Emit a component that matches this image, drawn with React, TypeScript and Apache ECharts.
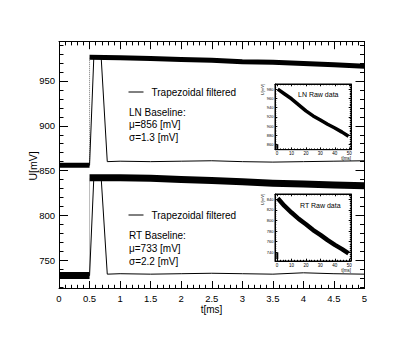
import React, { useEffect, useRef } from "react";
import * as echarts from "echarts";

// ---- Main traces (t in ms, U in mV) ----
const lnBaseT = [0, 0.5];
const lnBaseU = [856, 856];
const lnRawT = [0.5, 1, 1.5, 2, 2.5, 3, 3.5, 4, 4.5, 5];
const lnRawU = [976.5, 976, 975, 974, 973, 971.5, 971, 969.5, 968, 966.5];
const rtBaseT = [0, 0.5];
const rtBaseU = [733, 733];
const rtRawT = [0.5, 1, 1.5, 2, 2.5, 3, 3.5, 4, 4.5, 5];
const rtRawU = [842, 842, 841.5, 840, 839, 837.5, 836, 835, 834, 833];
const trapT = [0, 0.5, 0.57, 0.69, 0.79, 1, 1.5, 2, 2.5, 3, 3.5, 4, 4.5, 5];
const lnTrapU = [856, 856, 976.5, 976.5, 860, 860.5, 860, 860.5, 861, 860, 859.5, 860, 860.5, 861];
const rtTrapU = [733, 733, 842, 842, 734.5, 735, 734.5, 735, 735.5, 735, 734.5, 736, 735, 734.5];

// ---- Inset raw data (t in ms, U in mV) ----
const insetT = [0.5, 5, 10, 15, 20, 25, 30, 35, 40, 45, 49.5];
const lnInsetU = [980, 970, 959, 946, 933, 922, 913, 904, 896, 887, 878];
const rtInsetU = [842, 828, 815, 803, 793, 782, 773, 763, 754, 746, 738];
const insetBaseT = [0.2, 0.2];
const lnInsetBaseU = [851, 861];
const rtInsetBaseU = [727, 740];

// ---- Texts ----
const legendText = "Trapezoidal filtered";
const lnLines = ["LN Baseline:", "\u03bc=856 [mV]", "\u03c3=1.3 [mV]"];
const rtLines = ["RT Baseline:", "\u03bc=733 [mV]", "\u03c3=2.2 [mV]"];

const FONT = "'Liberation Sans', Arial, Helvetica, sans-serif";
const TICK = "#000";

const zip = (t: number[], u: number[]) => t.map((v, i) => [v, u[i]]);

function axisCommon(grid: number, major: number, minor: number, fs: number, margin: number, showLabel: boolean) {
  return {
    gridIndex: grid,
    type: "value",
    axisLine: { show: true, onZero: false, lineStyle: { color: "#000", width: 1 } },
    axisTick: { show: true, inside: true, length: major, lineStyle: { color: TICK, width: 1 } },
    minorTick: { show: true, splitNumber: 5, length: minor, lineStyle: { color: TICK, width: 1 } },
    splitLine: { show: false },
    minorSplitLine: { show: false },
    axisLabel: {
      show: showLabel,
      color: "#000",
      fontSize: fs,
      fontFamily: FONT,
      margin,
      showMinLabel: false,
      showMaxLabel: false,
    },
  };
}

export default function App() {
  const ref = useRef<HTMLDivElement>(null);
  useEffect(() => {
    if (!ref.current) return;
    const chart = echarts.init(ref.current, undefined, { renderer: "svg" });

    const mainX = (pos: string, show: boolean) => {
      const a: any = axisCommon(0, 7.5, 3.7, 9.5, 5, show);
      a.position = pos;
      a.min = 0;
      a.max = 5;
      a.interval = 0.5;
      a.axisLabel.showMinLabel = true;
      a.axisLabel.showMaxLabel = true;
      return a;
    };
    const mainY = (pos: string, show: boolean) => {
      const a: any = axisCommon(0, 9, 4.5, 9.5, 4, show);
      a.position = pos;
      a.min = 718.5;
      a.max = 993.8;
      return a;
    };
    const insX = (grid: number, pos: string, show: boolean) => {
      const a: any = axisCommon(grid, 2.3, 1.2, 4.5, 1.5, show);
      a.position = pos;
      a.min = -1.4;
      a.max = 51.2;
      return a;
    };
    const insY = (grid: number, pos: string, show: boolean, min: number, max: number, split: number) => {
      const a: any = axisCommon(grid, 2.3, 1.2, 4, 1.5, show);
      a.position = pos;
      a.min = min;
      a.max = max;
      a.splitNumber = split;
      return a;
    };

    const line = (name: string, data: number[][], width: number, xi: number, yi: number, extra: any = {}) => ({
      name,
      type: "line",
      xAxisIndex: xi,
      yAxisIndex: yi,
      data,
      showSymbol: false,
      symbol: "none",
      silent: true,
      lineStyle: { color: "#000", width, cap: "butt", join: "round", ...extra },
      z: width > 2 ? 2 : 3,
    });

    const textEl = (text: string, x: number, y: number, fs: number, extra: any = {}) => ({
      type: "text",
      x,
      y,
      silent: true,
      style: { text, fill: "#000", font: `${fs}px ${FONT}`, align: "left", verticalAlign: "middle", ...extra },
      z: 100,
    });

    const legendEls = (y: number) => [
      { type: "line", shape: { x1: 128.5, y1: y, x2: 143.5, y2: y }, style: { stroke: "#000", lineWidth: 1 }, z: 100 },
      textEl(legendText, 151.5, y, 10),
    ];

    chart.setOption({
      animation: false,
      backgroundColor: "#fff",
      textStyle: { fontFamily: FONT },
      grid: [
        { left: 59, top: 41.7, width: 305.5, height: 246.8, show: false, containLabel: false },
        { left: 275, top: 84, width: 76, height: 65.7, show: true, backgroundColor: "#fff", borderColor: "#000", borderWidth: 1, containLabel: false },
        { left: 275, top: 194, width: 76, height: 67, show: true, backgroundColor: "#fff", borderColor: "#000", borderWidth: 1, containLabel: false },
      ],
      xAxis: [
        mainX("bottom", true),
        mainX("top", false),
        insX(1, "bottom", true),
        insX(1, "top", false),
        insX(2, "bottom", true),
        insX(2, "top", false),
      ],
      yAxis: [
        mainY("left", true),
        mainY("right", false),
        insY(1, "left", true, 849, 991, 7),
        insY(1, "right", false, 849, 991, 7),
        insY(2, "left", true, 723.6, 850, 6),
        insY(2, "right", false, 723.6, 850, 6),
      ],
      series: [
        line("LN raw baseline", zip(lnBaseT, lnBaseU), 5, 0, 0),
        line("LN raw rise", [[lnRawT[0], lnBaseU[1]], [lnRawT[0], lnRawU[0]]], 1, 0, 0, { type: "dotted", color: "#777" }),
        line("LN raw", zip(lnRawT, lnRawU), 5, 0, 0),
        line("RT raw baseline", zip(rtBaseT, rtBaseU), 7, 0, 0),
        line("RT raw rise", [[rtRawT[0], rtBaseU[1]], [rtRawT[0], rtRawU[0]]], 1, 0, 0, { type: "dotted", color: "#777" }),
        line("RT raw", zip(rtRawT, rtRawU), 7, 0, 0),
        line("Trapezoidal filtered", zip(trapT, lnTrapU), 1, 0, 0),
        line("Trapezoidal filtered RT", zip(trapT, rtTrapU), 1, 0, 0),
        line("LN inset base", zip(insetBaseT, lnInsetBaseU), 2, 2, 2),
        line("LN Raw data", zip(insetT, lnInsetU), 3.5, 2, 2),
        line("RT inset base", zip(insetBaseT, rtInsetBaseU), 2, 4, 4),
        line("RT Raw data", zip(insetT, rtInsetU), 4.5, 4, 4),
      ],
      graphic: [
        ...legendEls(92),
        textEl(lnLines[0], 129, 112, 10),
        textEl(lnLines[1], 129, 124.5, 10),
        textEl(lnLines[2], 129, 137, 10),
        ...legendEls(215),
        textEl(rtLines[0], 129, 235.5, 10),
        textEl(rtLines[1], 129, 248.5, 10),
        textEl(rtLines[2], 129, 261, 10),
        textEl("LN Raw data", 298, 94.7, 7),
        textEl("RT Raw data", 300, 205, 7),
        textEl("t[ms]", 351, 158.7, 4.5, { align: "right" }),
        textEl("t[ms]", 351, 270, 4.5, { align: "right" }),
        { ...textEl("U[mV]", 262, 84, 4, { align: "right" }), rotation: Math.PI / 2 },
        { ...textEl("U[mV]", 262, 194, 4, { align: "right" }), rotation: Math.PI / 2 },
        textEl("t[ms]", 211.5, 309, 10, { align: "center" }),
        { ...textEl("U[mV]", 32.5, 166, 10.5, { align: "center" }), rotation: Math.PI / 2 },
      ],
    });
    return () => chart.dispose();
  }, []);
  return <div ref={ref} style={{ position: "fixed", left: 0, top: 0, width: 415, height: 341 }} />;
}
